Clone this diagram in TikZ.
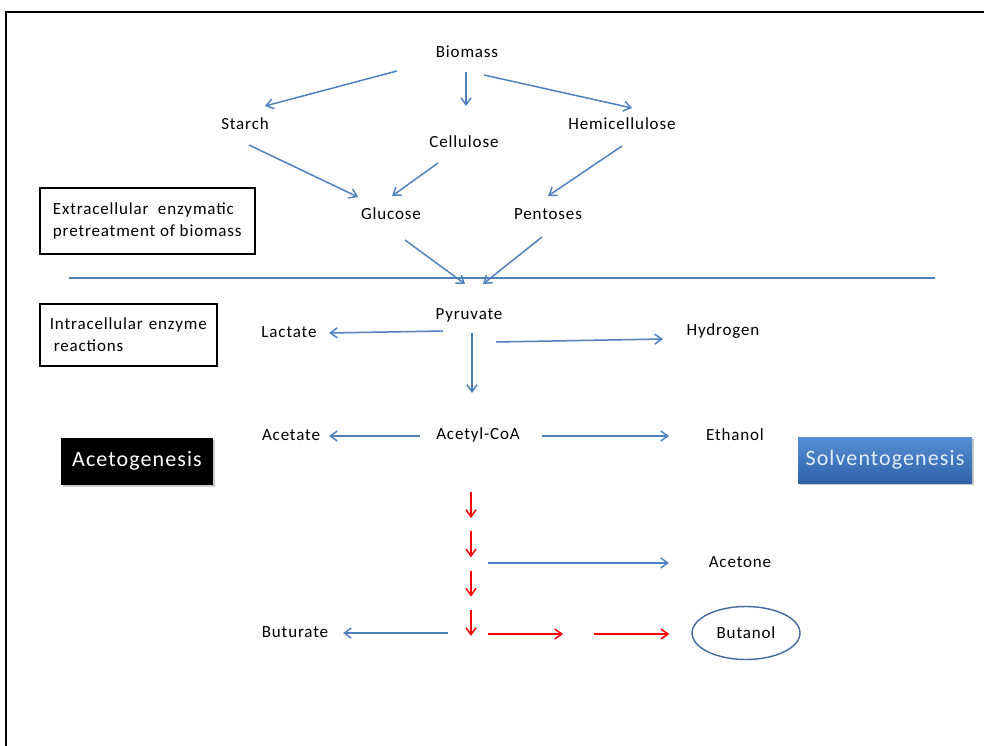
\documentclass[tikz,border=0pt]{standalone}
\usepackage{fontspec}
\setmainfont{Carlito}[LetterSpace=5]
\usetikzlibrary{arrows.meta,shapes.geometric,shadows}
\definecolor{PathBlue}{RGB}{79,129,189}
\definecolor{PathRed}{RGB}{255,0,0}
\definecolor{SolventTop}{RGB}{86,142,212}
\definecolor{SolventBottom}{RGB}{46,99,168}
\definecolor{SolventText}{RGB}{225,236,250}
\definecolor{ButanolEdge}{RGB}{65,105,155}

\begin{document}
\begin{tikzpicture}[x=1pt,y=-1pt,
  lbl/.style={inner sep=0pt,font=\fontsize{17}{21}\selectfont},
  flow/.style={PathBlue,line width=1.5pt,-{Straight Barb[length=7pt,width=10pt,line width=1.5pt]}},
  redflow/.style={flow,PathRed},
  notebox/.style={draw,line width=1.6pt,anchor=north west,align=left,inner xsep=11pt,inner ysep=0pt,font=\fontsize{17}{22}\selectfont},
  phase/.style={minimum height=47pt,inner sep=0pt,font=\fontsize{22}{26}\selectfont,drop shadow={shadow xshift=1.5pt,shadow yshift=-2pt,fill=black!35,opacity=0.6}}]
\useasboundingbox (0,0) rectangle (984,745);
\draw[line width=2.5pt] (6,760) -- (6,12) -- (1000,12);
% degradation of biomass
\node[lbl] (biomass) at (467,52) {Biomass};
\node[lbl] (starch) at (245,124) {Starch};
\node[lbl] (cellulose) at (464,142) {Cellulose};
\node[lbl] (hemi) at (622,124) {Hemicellulose};
\node[lbl] (glucose) at (391,214) {Glucose};
\node[lbl] (pentoses) at (548,214) {Pentoses};
\node[lbl] (pyruvate) at (469,315) {Pyruvate};
\draw[flow] ([shift={(-70,19)}]biomass.center) -- ([shift={(20,-18)}]starch.center);
\draw[flow] ([shift={(-1,20)}]biomass.center) -- ([shift={(2,-36)}]cellulose.center);
\draw[flow] ([shift={(17,23)}]biomass.center) -- ([shift={(10,-16)}]hemi.center);
\draw[flow] ([shift={(4,21)}]starch.center) -- ([shift={(-33,-17)}]glucose.center);
\draw[flow] ([shift={(-26,21)}]cellulose.center) -- ([shift={(1,-18)}]glucose.center);
\draw[flow] ([shift={(0,22)}]hemi.center) -- ([shift={(0,-18)}]pentoses.center);
\draw[flow] ([shift={(14,26)}]glucose.center) -- ([shift={(-4,-31)}]pyruvate.center);
\draw[flow] ([shift={(-6,23)}]pentoses.center) -- ([shift={(14,-31)}]pyruvate.center);
\draw[PathBlue,line width=1.5pt] (69,278) -- (935,278);
\node[notebox,minimum width=215pt,minimum height=66pt] (pretreat) at (39,187)
  {Extracellular\ \ enzymatic\\pretreatment of biomass};
\node[notebox,inner xsep=10pt,minimum width=177pt,minimum height=62pt] (intra) at (39,303)
  {Intracellular\hspace{6pt}enzyme\\\hspace{4pt}reactions};
% fermentation
\node[lbl] (lactate) at (289,332) {Lactate};
\node[lbl] (hydrogen) at (723,331) {Hydrogen};
\node[lbl] (acetate) at (291,435) {Acetate};
\node[lbl] (acetylcoa) at (478,435) {Acetyl-CoA};
\node[lbl] (ethanol) at (735,435) {Ethanol};
\node[lbl] (acetone) at (740,562) {Acetone};
\node[lbl,draw=ButanolEdge,line width=1.4pt,ellipse,minimum width=108pt,minimum height=53pt] (butanol) at (746,633) {Butanol};
\node[lbl] (buturate) at (295,632) {Buturate};
\draw[flow] ([shift={(-26,16)}]pyruvate.center) -- ([shift={(40,1)}]lactate.center);
\draw[flow] ([shift={(3,18)}]pyruvate.center) -- ([shift={(-6,-42)}]acetylcoa.center);
\draw[flow] ([shift={(27,27)}]pyruvate.center) -- ([shift={(-60,8)}]hydrogen.center);
\draw[flow] ([shift={(-58,1)}]acetylcoa.center) -- ([shift={(38,1)}]acetate.center);
\draw[flow] ([shift={(64,1)}]acetylcoa.center) -- ([shift={(-66,1)}]ethanol.center);
\coordinate (chaintop) at (471,492);
\foreach \k in {0,...,3} {
  \draw[redflow] ([shift={(0,39.3*\k)}]chaintop) -- ++(0,26);
}
\coordinate (ketojct) at (488,563);
\coordinate (butjct) at (448,633);
\coordinate (bujct) at (488,634);
\draw[flow] (ketojct) -- ([shift={(-71,1)}]acetone.center);
\draw[flow] (butjct) -- ([shift={(48,1)}]buturate.center);
\draw[redflow] (bujct) -- ++(75,0);
\draw[redflow] ([shift={(106,0)}]bujct) -- ([shift={(-22,1)}]butanol.west);
\node[phase,fill=black,text=white,minimum width=152pt] (aceto) at (137,461) {Acetogenesis};
\node[phase,top color=SolventTop,bottom color=SolventBottom,text=SolventText,minimum width=174pt,minimum height=46pt] (solvento) at (885,460) {Solventogenesis};
\end{tikzpicture}
\end{document}
